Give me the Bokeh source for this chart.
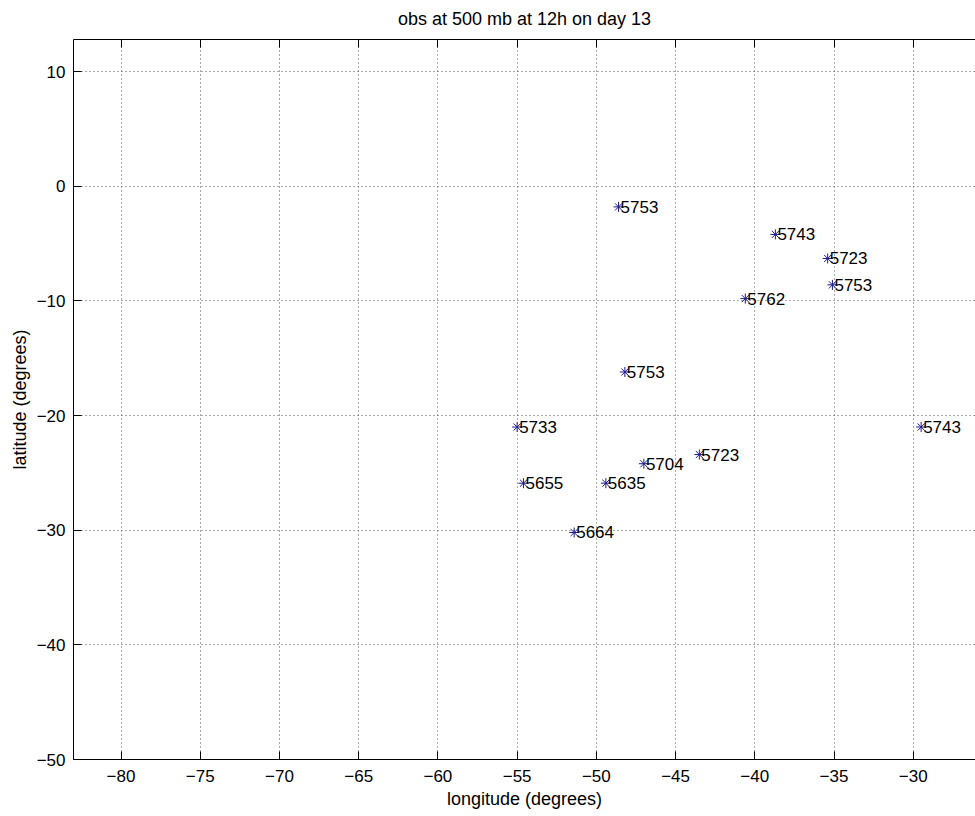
from bokeh.plotting import figure
from bokeh.models import LinearAxis, Range1d, FixedTicker, ColumnDataSource, CustomLabelingPolicy
from bokeh.core.properties import value
from bokeh.embed import file_html
from bokeh.resources import INLINE

# observation stations (longitude, latitude) and 500 mb heights
lon = [-48.6, -38.7, -35.4, -35.1, -40.6, -48.2, -55.0, -29.5, -43.5, -47.0, -54.6, -49.4, -51.4]
lat = [-1.8, -4.2, -6.3, -8.6, -9.8, -16.2, -21.0, -21.0, -23.4, -24.2, -25.9, -25.9, -30.2]
obs = ["5753", "5743", "5723", "5753", "5762", "5753", "5733", "5743", "5723", "5704", "5655", "5635", "5664"]

x_ticks = [-80, -75, -70, -65, -60, -55, -50, -45, -40, -35, -30]
y_ticks = [-50, -40, -30, -20, -10, 0, 10]

FONT = "Liberation Sans"

src = ColumnDataSource(data=dict(lon=lon, lat=lat, obs=obs))

p = figure(width=975, height=816, output_backend="svg", toolbar_location=None,
           x_range=Range1d(-83, -26.07), y_range=Range1d(-50, 12.8),
           x_axis_label="longitude (degrees)", y_axis_label="latitude (degrees)")
p.min_border_left = 73
p.min_border_right = 0
p.min_border_top = 39
p.min_border_bottom = 57
p.background_fill_color = "white"
p.border_fill_color = "white"
p.outline_line_color = None

p.title.text = "obs at 500 mb at 12h on day 13"
p.title.align = "center"
p.title.text_font = FONT
p.title.text_font_style = "normal"
p.title.text_font_size = "18px"
p.title.text_color = "black"
p.title.standoff = 0
p.title.offset = 5

for ax in (p.xaxis[0], p.yaxis[0]):
    ax.major_tick_in = 8
    ax.major_tick_out = 0
    ax.minor_tick_in = 0
    ax.minor_tick_out = 0
    ax.axis_line_color = "black"
    ax.major_tick_line_color = "black"
    ax.major_label_text_font = FONT
    ax.major_label_text_font_size = "17px"
    ax.major_label_text_color = "black"
    ax.axis_label_text_font = FONT
    ax.axis_label_text_font_size = "18px"
    ax.axis_label_text_font_style = "normal"
    ax.axis_label_text_color = "black"
    ax.axis_label_standoff = 4

p.xaxis[0].major_label_standoff = 10
p.yaxis[0].major_label_standoff = 8
p.xaxis[0].ticker = FixedTicker(ticks=x_ticks)
p.yaxis[0].ticker = FixedTicker(ticks=y_ticks)
p.xaxis[0].major_label_overrides = {t: "\u2212" + str(abs(t)) for t in x_ticks}
p.yaxis[0].major_label_overrides = {t: ("\u2212" + str(abs(t)) if t < 0 else str(t)) for t in y_ticks}

# top border with inward ticks, no labels
top = LinearAxis(ticker=FixedTicker(ticks=x_ticks))
top.major_tick_in = 8
top.major_tick_out = 0
top.minor_tick_in = 0
top.minor_tick_out = 0
top.major_label_standoff = 0
top.major_label_policy = CustomLabelingPolicy(code="""
    for (const i of indices) indices.unset(i)
    return indices
""")
top.axis_line_color = "black"
top.major_tick_line_color = "black"
p.add_layout(top, "above")

p.xgrid.ticker = FixedTicker(ticks=x_ticks)
p.ygrid.ticker = FixedTicker(ticks=y_ticks)
for g in (p.xgrid[0], p.ygrid[0]):
    g.grid_line_color = "#555555"
    g.grid_line_dash = "1 3"
    g.grid_line_width = 1

p.scatter("lon", "lat", source=src, marker="asterisk", size=10,
          line_color="#1c1c8c", line_width=1)
p.text("lon", "lat", text="obs", source=src, x_offset=2,
       text_baseline="middle", text_align="left",
       text_font=value(FONT), text_font_size="17px", text_color="black")

open("out.html", "w").write(file_html(p, INLINE))
